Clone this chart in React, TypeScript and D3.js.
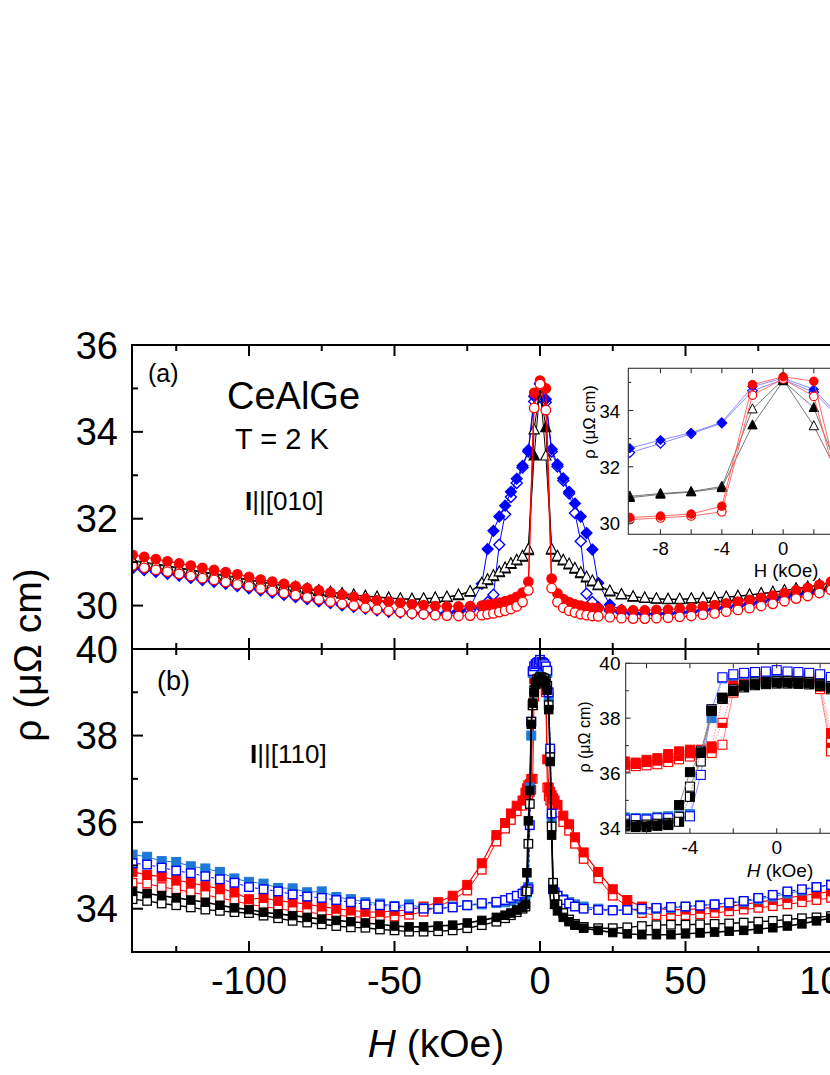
import React from "react";
import * as d3 from "d3";

const W = 830;
const HT = 1075;
const FONT = "'Liberation Sans', Arial, Helvetica, sans-serif";

// ---------- axis ticks ----------
const xMajorTicks = [-100, -50, 0, 50, 100];
const xTickLabels = ["-100", "-50", "0", "50", "100"];
const xMinorTicks = [-125, -75, -25, 25, 75, 125];
const yAMajor = [30, 32, 34, 36];
const yAMinor = [31, 33, 35];
const yBMajor = [34, 36, 38, 40];
const yBMinor = [35, 37, 39];
const iaXTicks = [-8, -6, -4, -2, 0, 2, 4, 6, 8];
const iaXLabels = [-8, -4, 0];
const iaYMajor = [30, 32, 34];
const iaYMinor = [31, 33, 35];
const ibXTicks = [-6, -4, -2, 0, 2, 4, 6];
const ibXLabels = [-4, 0];
const ibYMajor = [34, 36, 38, 40];
const ibYMinor = [35, 37, 39];

// ---------- panel (a): I || [010] ----------
const hA = [
  -140, -136, -132, -128, -124, -120, -116, -112, -108, -104, -100, -96, -92, -88, -84, -80, -76, -72, -68, -64, -60, -56, -52, -48, -44, -40, -36, -32, -28, -24,
  -20, -18, -16, -14, -12, -10, -8, -6, -4, -2, 0, 2, 4, 6, 8, 10, 12, 14, 16, 18, 20,
  24, 28, 32, 36, 40, 44, 48, 52, 56, 60, 64, 68, 72, 76, 80, 84, 88, 92, 96, 100, 104, 108, 112, 116, 120, 124, 128, 132, 136, 140,
];
const aRedFilled = [
  31.17, 31.12, 31.07, 31.02, 30.97, 30.92, 30.87, 30.82, 30.77, 30.72, 30.66, 30.6, 30.55, 30.5, 30.45, 30.4, 30.35, 30.3, 30.25, 30.2, 30.16, 30.12, 30.09, 30.06, 30.03, 30.01, 29.99, 29.98, 29.98, 29.99,
  30.0, 30.02, 30.04, 30.07, 30.1, 30.14, 30.2, 30.3, 30.55, 34.9, 35.18, 35.0, 30.62, 30.28, 30.15, 30.08, 30.03, 30.0, 29.97, 29.95, 29.94,
  29.92, 29.9, 29.89, 29.89, 29.9, 29.91, 29.93, 29.95, 29.98, 30.01, 30.05, 30.09, 30.13, 30.18, 30.23, 30.29, 30.35, 30.41, 30.48, 30.55, 30.62, 30.69, 30.76, 30.83, 30.9, 30.97, 31.04, 31.11, 31.18, 31.25,
];
const aRedOpen = [
  30.92, 30.87, 30.82, 30.78, 30.73, 30.68, 30.63, 30.59, 30.54, 30.49, 30.44, 30.39, 30.34, 30.29, 30.24, 30.19, 30.14, 30.09, 30.04, 30.0, 29.95, 29.91, 29.88, 29.85, 29.82, 29.8, 29.78, 29.77, 29.76, 29.77,
  29.78, 29.8, 29.82, 29.85, 29.88, 29.92, 29.98, 30.08, 30.35, 34.55, 35.1, 34.5, 30.4, 30.08, 29.95, 29.88, 29.84, 29.8, 29.78, 29.76, 29.75,
  29.73, 29.71, 29.7, 29.7, 29.71, 29.72, 29.74, 29.76, 29.79, 29.82, 29.86, 29.9, 29.94, 29.99, 30.04, 30.1, 30.16, 30.22, 30.29, 30.36, 30.43, 30.5, 30.57, 30.64, 30.71, 30.78, 30.85, 30.92, 30.99, 31.06,
];
const aBlackOpen = [
  31.05, 31.0, 30.96, 30.92, 30.87, 30.83, 30.78, 30.74, 30.7, 30.65, 30.6, 30.56, 30.51, 30.47, 30.43, 30.39, 30.35, 30.31, 30.28, 30.25, 30.22, 30.2, 30.18, 30.16, 30.15, 30.16, 30.18, 30.2, 30.25, 30.33,
  30.52, 30.6, 30.69, 30.78, 30.87, 30.97, 31.05, 31.14, 31.3, 34.05, 35.05, 33.45, 31.3, 31.14, 31.05, 30.96, 30.86, 30.76, 30.66, 30.57, 30.48,
  30.34, 30.26, 30.21, 30.18, 30.16, 30.15, 30.15, 30.16, 30.17, 30.18, 30.2, 30.22, 30.25, 30.28, 30.31, 30.35, 30.39, 30.43, 30.48, 30.53, 30.58, 30.63, 30.68, 30.74, 30.8, 30.86, 30.92, 30.98, 31.04, 31.1,
];
const aBlackFilled = [
  31.03, 30.98, 30.94, 30.9, 30.85, 30.81, 30.76, 30.72, 30.68, 30.63, 30.58, 30.54, 30.49, 30.45, 30.41, 30.37, 30.33, 30.3, 30.27, 30.24, 30.21, 30.19, 30.17, 30.15, 30.14, 30.15, 30.17, 30.19, 30.23, 30.31,
  30.5, 30.58, 30.67, 30.76, 30.85, 30.95, 31.03, 31.12, 31.27, 33.45, 35.0, 34.1, 31.28, 31.12, 31.03, 30.94, 30.84, 30.74, 30.64, 30.55, 30.46,
  30.32, 30.25, 30.2, 30.17, 30.15, 30.14, 30.14, 30.15, 30.16, 30.17, 30.19, 30.21, 30.24, 30.27, 30.3, 30.34, 30.38, 30.42, 30.47, 30.52, 30.57, 30.62, 30.67, 30.73, 30.79, 30.85, 30.91, 30.97, 31.03, 31.09,
];
const aBlueFilled = [
  30.88, 30.84, 30.8, 30.75, 30.71, 30.66, 30.61, 30.57, 30.52, 30.47, 30.42, 30.37, 30.32, 30.27, 30.22, 30.17, 30.12, 30.08, 30.03, 29.99, 29.95, 29.91, 29.88, 29.86, 29.84, 29.83, 29.82, 29.84, 29.88, 29.97,
  30.5, 31.3, 31.72, 32.05, 32.3, 32.62, 32.92, 33.22, 33.58, 34.82, 35.12, 34.75, 33.6, 33.25, 32.93, 32.62, 32.35, 32.05, 31.67, 31.29, 30.52,
  30.02, 29.9, 29.84, 29.82, 29.82, 29.83, 29.85, 29.87, 29.9, 29.93, 29.97, 30.01, 30.05, 30.1, 30.15, 30.2, 30.25, 30.3, 30.36, 30.42, 30.48, 30.55, 30.61, 30.68, 30.74, 30.81, 30.87, 30.94, 31.0, 31.07,
];
const aBlueOpen = [
  30.86, 30.82, 30.78, 30.73, 30.69, 30.64, 30.59, 30.55, 30.5, 30.45, 30.4, 30.35, 30.3, 30.25, 30.2, 30.15, 30.1, 30.06, 30.01, 29.97, 29.93, 29.89, 29.86, 29.84, 29.82, 29.81, 29.8, 29.82, 29.85, 29.9,
  29.95, 30.08, 30.25, 31.4, 32.1, 32.5, 32.82, 33.18, 33.55, 34.7, 35.1, 34.68, 33.55, 33.2, 32.88, 32.58, 32.13, 31.48, 30.27, 30.08, 29.96,
  29.88, 29.84, 29.81, 29.8, 29.8, 29.81, 29.83, 29.85, 29.88, 29.91, 29.95, 29.99, 30.03, 30.08, 30.13, 30.18, 30.23, 30.28, 30.34, 30.4, 30.46, 30.53, 30.59, 30.66, 30.72, 30.79, 30.85, 30.92, 30.98, 31.05,
];

// inset (a)
const hIA = [-10, -8, -6, -4, -2, 0, 2, 4, 6, 8, 10];
const iaBlueFilled = [32.66, 32.95, 33.21, 33.58, 34.85, 35.15, 34.75, 33.6, 33.25, 32.95, 32.68];
const iaBlueOpen = [32.5, 32.83, 33.17, 33.55, 34.7, 35.1, 34.65, 33.55, 33.2, 32.85, 32.55];
const iaBlackOpen = [30.95, 31.05, 31.12, 31.3, 34.05, 35.1, 33.45, 31.3, 31.14, 31.05, 30.95];
const iaBlackFilled = [30.9, 31.02, 31.1, 31.25, 33.48, 35.05, 34.1, 31.3, 31.12, 31.03, 30.93];
const iaRedFilled = [30.2, 30.25, 30.32, 30.6, 34.92, 35.2, 35.04, 30.55, 30.3, 30.22, 30.18];
const iaRedOpen = [30.12, 30.18, 30.25, 30.4, 34.55, 35.12, 34.5, 30.42, 30.22, 30.15, 30.1];

// ---------- panel (b): I || [110] ----------
const hB = [
  -140, -135, -130, -125, -120, -115, -110, -105, -100, -95, -90, -85, -80, -75, -70, -65, -60, -55, -50, -45, -40, -35, -30, -25, -20, -15,
  -12, -10, -8, -6, -5, -4.5, -4, -3.5, -3, -2.5, -2, -1.5, -1, -0.5, 0, 0.5, 1, 1.5, 2, 2.5, 3, 3.5, 4, 4.5, 5, 6, 8, 10, 12,
  15, 20, 25, 30, 35, 40, 45, 50, 55, 60, 65, 70, 75, 80, 85, 90, 95, 100, 105, 110, 115, 120, 125, 130, 135, 140,
];
const bBlueFilled = [
  35.25, 35.2, 35.1, 35.08, 34.98, 34.93, 34.85, 34.7, 34.62, 34.58, 34.48, 34.47, 34.38, 34.4, 34.27, 34.22, 34.15, 34.12, 34.06, 34.1, 34.02, 34.0, 34.05, 34.08, 34.1, 34.13,
  34.15, 34.18, 34.22, 34.28, 34.32, 34.38, 34.5, 36.8, 38.0, 39.45, 39.55, 39.6, 39.62, 39.62, 39.65, 39.62, 39.6, 39.58, 39.55, 39.45, 38.9, 37.6, 36.1, 34.5, 34.35, 34.3, 34.22, 34.15, 34.1,
  34.05, 34.0, 33.97, 33.97, 33.98, 34.0, 34.02, 34.05, 34.08, 34.1, 34.13, 34.16, 34.22, 34.28, 34.35, 34.42, 34.5, 34.56, 34.62, 34.68, 34.75, 34.82, 34.88, 34.95, 35.0, 35.05,
];
const bBlueOpen = [
  35.05, 35.02, 34.95, 34.88, 34.82, 34.75, 34.68, 34.6, 34.5, 34.45, 34.4, 34.33, 34.28, 34.25, 34.2, 34.15, 34.1, 34.08, 34.05, 34.02, 34.0, 34.0, 34.03, 34.08, 34.13, 34.16,
  34.2, 34.25, 34.3, 34.35, 34.4, 34.42, 34.45, 35.93, 38.32, 39.49, 39.6, 39.65, 39.68, 39.7, 39.75, 39.7, 39.68, 39.65, 39.6, 39.5, 39.0, 37.7, 36.2, 34.45, 34.38, 34.3, 34.2, 34.12, 34.05,
  34.0, 33.97, 33.96, 33.97, 34.0, 34.02, 34.04, 34.05, 34.07, 34.1, 34.14, 34.18, 34.25, 34.32, 34.4, 34.45, 34.5, 34.55, 34.6, 34.65, 34.7, 34.76, 34.82, 34.88, 34.94, 35.0,
];
const bRedFilled = [
  34.85, 34.78, 34.74, 34.66, 34.6, 34.52, 34.47, 34.38, 34.22, 34.25, 34.18, 34.15, 34.1, 34.05, 34.0, 33.96, 33.93, 33.92, 33.95, 33.97, 34.05, 34.15, 34.3, 34.55, 35.05, 35.7,
  35.98, 36.2, 36.38, 36.5, 36.68, 36.78, 36.85, 36.88, 37.0, 38.7, 39.3, 39.5, 39.55, 39.58, 39.58, 39.55, 39.52, 39.45, 39.05, 37.45, 36.8, 36.7, 36.62, 36.55, 36.5, 36.4, 36.15, 35.95, 35.65,
  35.3, 34.85, 34.45, 34.2, 34.05, 34.0, 33.98, 33.98, 34.0, 34.03, 34.06, 34.1, 34.15, 34.2, 34.25, 34.3, 34.35, 34.4, 34.45, 34.5, 34.55, 34.6, 34.65, 34.7, 34.75, 34.8,
];
const bRedOpen = [
  34.6, 34.58, 34.5, 34.45, 34.38, 34.32, 34.25, 34.18, 34.1, 34.05, 34.0, 33.95, 33.92, 33.88, 33.85, 33.82, 33.8, 33.8, 33.82, 33.86, 33.93, 34.05, 34.2, 34.42, 34.9, 35.55,
  35.85, 36.05, 36.25, 36.38, 36.5, 36.6, 36.65, 36.7, 36.75, 37.0, 38.9, 39.4, 39.45, 39.48, 39.5, 39.48, 39.45, 39.42, 39.0, 36.8, 36.6, 36.5, 36.42, 36.38, 36.32, 36.22, 36.0, 35.8, 35.5,
  35.15, 34.7, 34.3, 34.05, 33.9, 33.85, 33.84, 33.85, 33.87, 33.9, 33.94, 33.98, 34.02, 34.06, 34.1, 34.15, 34.2, 34.25, 34.3, 34.35, 34.4, 34.45, 34.5, 34.55, 34.6, 34.65,
];
const bBlackFilled = [
  34.4, 34.35, 34.3, 34.25, 34.2, 34.15, 34.08, 34.02, 33.98, 33.92, 33.88, 33.84, 33.8, 33.76, 33.73, 33.7, 33.67, 33.64, 33.6, 33.58, 33.58, 33.6, 33.62, 33.67, 33.73, 33.8,
  33.85, 33.9, 33.97, 34.03, 34.1, 34.83, 36.03, 36.73, 38.26, 38.75, 38.99, 39.18, 39.24, 39.28, 39.3, 39.3, 39.28, 39.25, 39.2, 39.05, 38.6, 37.4, 35.7, 34.45, 34.1, 33.95, 33.8, 33.7, 33.62,
  33.55, 33.5, 33.45, 33.42, 33.4, 33.4, 33.4, 33.42, 33.44, 33.46, 33.48, 33.5, 33.53, 33.56, 33.6, 33.65, 33.72, 33.78, 33.83, 33.88, 33.93, 33.98, 34.03, 34.08, 34.13, 34.18,
];
const bBlackOpen = [
  34.22, 34.18, 34.12, 34.08, 34.03, 33.98, 33.95, 33.92, 33.9, 33.84, 33.78, 33.72, 33.68, 33.64, 33.6, 33.57, 33.56, 33.52, 33.5, 33.47, 33.47, 33.48, 33.5, 33.55, 33.62, 33.7,
  33.78, 33.85, 33.92, 34.0, 34.05, 34.4, 35.5, 36.42, 38.32, 38.7, 39.05, 39.2, 39.3, 39.32, 39.35, 39.35, 39.33, 39.32, 39.25, 39.15, 38.7, 37.5, 35.9, 34.6, 34.3, 34.1, 33.9, 33.75, 33.65,
  33.58, 33.55, 33.55, 33.57, 33.6, 33.62, 33.63, 33.63, 33.64, 33.65, 33.66, 33.68, 33.7, 33.72, 33.75, 33.78, 33.8, 33.83, 33.86, 33.9, 33.93, 33.96, 34.0, 34.03, 34.06, 34.1,
];

// inset (b)
const hIB = [-7, -6.5, -6, -5.5, -5, -4.5, -4, -3.5, -3, -2.5, -2, -1.5, -1, -0.5, 0, 0.5, 1, 1.5, 2, 2.5, 3, 3.5, 4];
const ibBlueFilled = [34.38, 34.36, 34.35, 34.4, 34.42, 34.45, 34.5, 36.8, 38.0, 39.45, 39.55, 39.6, 39.62, 39.62, 39.65, 39.62, 39.6, 39.58, 39.55, 39.45, 38.9, 37.6, 36.1];
const ibBlueOpen = [34.3, 34.32, 34.3, 34.35, 34.35, 34.38, 34.42, 35.93, 38.32, 39.49, 39.6, 39.65, 39.68, 39.7, 39.75, 39.7, 39.68, 39.65, 39.6, 39.5, 39.0, 37.7, 36.2];
const ibRedFilled = [36.42, 36.38, 36.48, 36.54, 36.69, 36.79, 36.85, 36.85, 36.97, 38.7, 39.3, 39.5, 39.55, 39.58, 39.58, 39.55, 39.52, 39.45, 39.3, 37.46, 36.8, 36.7, 36.62];
const ibRedOpen = [36.2, 36.25, 36.28, 36.32, 36.4, 36.5, 36.6, 36.65, 36.73, 37.03, 38.93, 39.4, 39.45, 39.48, 39.5, 39.48, 39.45, 39.42, 39.06, 36.79, 36.6, 36.5, 36.42];
const ibRedHalf = [36.3, 36.33, 36.4, 36.45, 36.55, 36.62, 36.72, 36.78, 36.9, 37.83, 39.1, 39.45, 39.5, 39.52, 39.54, 39.52, 39.5, 39.46, 39.15, 37.1, 36.7, 36.6, 36.5];
const ibBlackFilled = [34.05, 34.03, 34.03, 34.07, 34.1, 34.83, 36.03, 36.73, 38.26, 38.75, 38.99, 39.18, 39.24, 39.28, 39.3, 39.3, 39.28, 39.27, 39.2, 39.1, 38.6, 37.4, 35.7];
const ibBlackOpen = [34.15, 34.1, 34.12, 34.15, 34.18, 34.4, 35.5, 36.42, 38.32, 38.7, 39.05, 39.2, 39.3, 39.32, 39.35, 39.35, 39.33, 39.32, 39.25, 39.15, 38.7, 37.5, 35.9];
const ibBlackHalf = [34.1, 34.08, 34.08, 34.12, 34.15, 34.22, 35.13, 36.78, 38.27, 38.72, 39.0, 39.12, 39.2, 39.24, 39.26, 39.26, 39.25, 39.23, 39.18, 39.05, 38.5, 37.3, 35.6];

// ---------- colours ----------
const RED = "#ff0000";
const BLUE = "#0000ff";
const LBLUE = "#1e78d6";
const BLACK = "#000000";

// ---------- scales ----------
const xMain = d3.scaleLinear().domain([-140.2, 140.2]).range([132, 948]);
const yA = d3.scaleLinear().domain([29, 36]).range([649, 345]);
const yB = d3.scaleLinear().domain([33, 40]).range([952, 649]);
const xIA = d3.scaleLinear().domain([-10.1, 10.1]).range([628.3, 938]);
const yIA = d3.scaleLinear().domain([29.6, 35.5]).range([534.3, 368.3]);
const xIB = d3.scaleLinear().domain([-6.96, 6.96]).range([625.7, 927.7]);
const yIB = d3.scaleLinear().domain([33.8, 40]).range([833.3, 663.3]);

type Shape = "circle" | "triangle" | "diamond" | "square";
type Fill = "filled" | "open" | "halfR" | "halfB";

function Marker(p: { shape: Shape; fill: Fill; color: string; cx: number; cy: number; s: number; sw: number }) {
  const { shape, fill, color, cx, cy, s, sw } = p;
  const f = fill === "filled" ? color : "#ffffff";
  if (shape === "circle") {
    return <circle cx={cx} cy={cy} r={s / 2} fill={f} stroke={color} strokeWidth={sw} />;
  }
  if (shape === "triangle") {
    const d = `M${cx},${cy - 0.58 * s}L${cx + 0.52 * s},${cy + 0.42 * s}L${cx - 0.52 * s},${cy + 0.42 * s}Z`;
    return <path d={d} fill={f} stroke={color} strokeWidth={sw} strokeLinejoin="miter" />;
  }
  if (shape === "diamond") {
    const h = s / 2;
    const d = `M${cx},${cy - h}L${cx + h},${cy}L${cx},${cy + h}L${cx - h},${cy}Z`;
    return <path d={d} fill={f} stroke={color} strokeWidth={sw} />;
  }
  const h = s / 2;
  return (
    <g>
      <rect x={cx - h} y={cy - h} width={s} height={s} fill={f} stroke={color} strokeWidth={sw} />
      {fill === "halfR" && <rect x={cx} y={cy - h} width={h} height={s} fill={color} />}
      {fill === "halfB" && <rect x={cx - h} y={cy} width={s} height={h} fill={color} />}
    </g>
  );
}

function Series(p: {
  xs: number[];
  ys: number[];
  sx: d3.ScaleLinear<number, number>;
  sy: d3.ScaleLinear<number, number>;
  color: string;
  lineColor?: string;
  shape: Shape;
  fill: Fill;
  size: number;
  sw: number;
  lw: number;
  dash?: string;
}) {
  const { xs, ys, sx, sy, color, lineColor, shape, fill, size, sw, lw, dash } = p;
  const line = d3
    .line<number>()
    .x((_, i) => sx(xs[i]))
    .y((v) => sy(v));
  return (
    <g>
      <path d={line(ys) || ""} fill="none" stroke={lineColor || color} strokeWidth={lw} strokeDasharray={dash} />
      {ys.map((v, i) => (
        <Marker key={i} shape={shape} fill={fill} color={color} cx={sx(xs[i])} cy={sy(v)} s={size} sw={sw} />
      ))}
    </g>
  );
}

export default function App() {
  const L = 132;
  const R = 948;
  const TOP = 345;
  const MID = 649;
  const BOT = 952;
  const AX = 2;

  // inset frames
  const ia = { x0: 628.3, x1: 938, y0: 368.3, y1: 534.3 };
  const ib = { x0: 625.7, x1: 927.7, y0: 663.3, y1: 833.3 };

  return (
    <svg
      width={W}
      height={HT}
      viewBox={`0 0 ${W} ${HT}`}
      style={{ position: "absolute", left: 0, top: 0, display: "block", background: "#fff" }}
      fontFamily={FONT}
    >
      <defs>
        <clipPath id="clipA">
          <rect x={L} y={TOP} width={R - L} height={MID - TOP} />
        </clipPath>
        <clipPath id="clipB">
          <rect x={L} y={MID} width={R - L} height={BOT - MID} />
        </clipPath>
        <clipPath id="clipIA">
          <rect x={ia.x0} y={ia.y0} width={ia.x1 - ia.x0} height={ia.y1 - ia.y0} />
        </clipPath>
        <clipPath id="clipIB">
          <rect x={ib.x0} y={ib.y0} width={ib.x1 - ib.x0} height={ib.y1 - ib.y0} />
        </clipPath>
      </defs>
      <rect x={0} y={0} width={W} height={HT} fill="#fff" />

      {/* ---------- panel (a) data ---------- */}
      <g clipPath="url(#clipA)">
        <Series xs={hA} ys={aBlueOpen} sx={xMain} sy={yA} color={BLUE} shape="diamond" fill="open" size={11} sw={1.4} lw={1} />
        <Series xs={hA} ys={aBlueFilled} sx={xMain} sy={yA} color={BLUE} shape="diamond" fill="filled" size={11} sw={1.2} lw={1} />
        <Series xs={hA} ys={aBlackFilled} sx={xMain} sy={yA} color={BLACK} shape="triangle" fill="filled" size={10} sw={1.1} lw={1} />
        <Series xs={hA} ys={aBlackOpen} sx={xMain} sy={yA} color={BLACK} shape="triangle" fill="open" size={10} sw={1.1} lw={1} />
        <Series xs={hA} ys={aRedFilled} sx={xMain} sy={yA} color={RED} shape="circle" fill="filled" size={9.5} sw={1.2} lw={1.2} />
        <Series xs={hA} ys={aRedOpen} sx={xMain} sy={yA} color={RED} shape="circle" fill="open" size={9.5} sw={1.3} lw={1} />
      </g>

      {/* ---------- panel (b) data ---------- */}
      <g clipPath="url(#clipB)">
        <Series xs={hB} ys={bRedOpen} sx={xMain} sy={yB} color={RED} shape="square" fill="open" size={8.5} sw={1.3} lw={1} />
        <Series xs={hB} ys={bRedFilled} sx={xMain} sy={yB} color={RED} shape="square" fill="filled" size={9} sw={1} lw={1.2} />
        <Series xs={hB} ys={bBlueFilled} sx={xMain} sy={yB} color={LBLUE} shape="square" fill="filled" size={9} sw={1} lw={1} />
        <Series xs={hB} ys={bBlueOpen} sx={xMain} sy={yB} color={BLUE} shape="square" fill="open" size={8.5} sw={1.4} lw={1} dash="3,2" />
        <Series xs={hB} ys={bBlackOpen} sx={xMain} sy={yB} color={BLACK} shape="square" fill="open" size={8.5} sw={1.3} lw={1.4} />
        <Series xs={hB} ys={bBlackFilled} sx={xMain} sy={yB} color={BLACK} shape="square" fill="filled" size={8.5} sw={1} lw={1.6} />
      </g>

      {/* ---------- main axes ---------- */}
      <g stroke="#000" strokeWidth={AX} fill="none">
        <line x1={L} y1={TOP} x2={L} y2={BOT} />
        <line x1={L - 1} y1={TOP} x2={R} y2={TOP} />
        <line x1={L - 1} y1={MID} x2={R} y2={MID} />
        <line x1={L - 1} y1={BOT} x2={R} y2={BOT} />
        {xMajorTicks.map((t) => (
          <g key={"xM" + t}>
            <line x1={xMain(t)} y1={TOP} x2={xMain(t)} y2={TOP + 11} />
            <line x1={xMain(t)} y1={MID - 11} x2={xMain(t)} y2={MID + 11} />
            <line x1={xMain(t)} y1={BOT} x2={xMain(t)} y2={BOT - 11} />
          </g>
        ))}
        {xMinorTicks.map((t) => (
          <g key={"xm" + t}>
            <line x1={xMain(t)} y1={TOP} x2={xMain(t)} y2={TOP + 6} />
            <line x1={xMain(t)} y1={MID - 6} x2={xMain(t)} y2={MID + 6} />
            <line x1={xMain(t)} y1={BOT} x2={xMain(t)} y2={BOT - 6} />
          </g>
        ))}
        {yAMajor.map((t) => (
          <line key={"yaM" + t} x1={L} y1={yA(t)} x2={L + 11} y2={yA(t)} />
        ))}
        {yAMinor.map((t) => (
          <line key={"yam" + t} x1={L} y1={yA(t)} x2={L + 6} y2={yA(t)} />
        ))}
        {yBMajor.map((t) => (
          <line key={"ybM" + t} x1={L} y1={yB(t)} x2={L + 11} y2={yB(t)} />
        ))}
        {yBMinor.map((t) => (
          <line key={"ybm" + t} x1={L} y1={yB(t)} x2={L + 6} y2={yB(t)} />
        ))}
      </g>

      {/* tick labels */}
      <g fontSize={38} fill="#000">
        {yAMajor.map((t) => (
          <text key={"yal" + t} x={118} y={yA(t) + 13.5} textAnchor="end">
            {t}
          </text>
        ))}
        {yBMajor.map((t) => (
          <text key={"ybl" + t} x={118} y={yB(t) + 13.5} textAnchor="end">
            {t}
          </text>
        ))}
        {xMajorTicks.map((t, i) => (
          <text key={"xl" + t} x={xMain(t)} y={994} textAnchor="middle">
            {xTickLabels[i]}
          </text>
        ))}
      </g>

      {/* axis titles */}
      <text transform="translate(41,655) rotate(-90)" textAnchor="middle" fontSize={39}>
        ρ (μΩ cm)
      </text>
      <text x={436} y={1057} textAnchor="middle" fontSize={39}>
        <tspan fontStyle="italic">H</tspan> (kOe)
      </text>

      {/* annotations */}
      <text x={148} y={382} fontSize={25}>(a)</text>
      <text x={227} y={409} fontSize={38}>CeAlGe</text>
      <text x={235} y={449} fontSize={29}>T = 2 K</text>
      <text x={245} y={510} fontSize={26}>
        <tspan fontWeight="bold">I</tspan>||[010]
      </text>
      <text x={157} y={690} fontSize={27}>(b)</text>
      <text x={250} y={763} fontSize={26}>
        <tspan fontWeight="bold">I</tspan>||[110]
      </text>

      {/* ---------- inset (a) ---------- */}
      <rect x={ia.x0} y={ia.y0} width={ia.x1 - ia.x0} height={ia.y1 - ia.y0} fill="#fff" />
      <g clipPath="url(#clipIA)">
        <Series xs={hIA} ys={iaBlueOpen} sx={xIA} sy={yIA} color={BLUE} lineColor="#7f7fff" shape="diamond" fill="open" size={9.5} sw={1.2} lw={0.9} />
        <Series xs={hIA} ys={iaBlueFilled} sx={xIA} sy={yIA} color={BLUE} lineColor="#7f7fff" shape="diamond" fill="filled" size={9.5} sw={1} lw={0.9} />
        <Series xs={hIA} ys={iaBlackOpen} sx={xIA} sy={yIA} color={BLACK} lineColor="#555" shape="triangle" fill="open" size={9} sw={1} lw={0.8} />
        <Series xs={hIA} ys={iaBlackFilled} sx={xIA} sy={yIA} color={BLACK} lineColor="#555" shape="triangle" fill="filled" size={9} sw={1} lw={0.8} />
        <Series xs={hIA} ys={iaRedOpen} sx={xIA} sy={yIA} color={RED} lineColor="#ff5a5a" shape="circle" fill="open" size={8.5} sw={1.2} lw={0.9} />
        <Series xs={hIA} ys={iaRedFilled} sx={xIA} sy={yIA} color={RED} lineColor="#ff5a5a" shape="circle" fill="filled" size={8.5} sw={1} lw={0.9} />
      </g>
      <g stroke="#333" strokeWidth={1.1} fill="none">
        <rect x={ia.x0} y={ia.y0} width={ia.x1 - ia.x0} height={ia.y1 - ia.y0} />
        {iaXTicks.map((t) => (
          <g key={"iax" + t}>
            <line x1={xIA(t)} y1={ia.y0} x2={xIA(t)} y2={ia.y0 + 5} />
            <line x1={xIA(t)} y1={ia.y1} x2={xIA(t)} y2={ia.y1 - 5} />
          </g>
        ))}
        {iaYMajor.map((t) => (
          <line key={"iayM" + t} x1={ia.x0} y1={yIA(t)} x2={ia.x0 + 5} y2={yIA(t)} />
        ))}
        {iaYMinor.map((t) => (
          <line key={"iaym" + t} x1={ia.x0} y1={yIA(t)} x2={ia.x0 + 3} y2={yIA(t)} />
        ))}
      </g>
      <g fontSize={18.5} fill="#000">
        {iaYMajor.map((t) => (
          <text key={"iayl" + t} x={620} y={yIA(t) + 7} textAnchor="end">
            {t}
          </text>
        ))}
        {iaXLabels.map((t) => (
          <text key={"iaxl" + t} x={xIA(t)} y={555} textAnchor="middle">
            {t}
          </text>
        ))}
        <text x={786} y={577} textAnchor="middle">H (kOe)</text>
      </g>
      <text transform="translate(595,422) rotate(-90)" textAnchor="middle" fontSize={16.5}>
        ρ (μΩ cm)
      </text>

      {/* ---------- inset (b) ---------- */}
      <rect x={ib.x0} y={ib.y0} width={ib.x1 - ib.x0} height={ib.y1 - ib.y0} fill="#fff" />
      <g clipPath="url(#clipIB)">
        <Series xs={hIB} ys={ibRedOpen} sx={xIB} sy={yIB} color={RED} lineColor="#ff6a6a" shape="square" fill="open" size={9} sw={1.1} lw={0.8} />
        <Series xs={hIB} ys={ibRedHalf} sx={xIB} sy={yIB} color={RED} lineColor="#ff6a6a" shape="square" fill="halfB" size={9} sw={1.1} lw={0.8} dash="1.5,1.5" />
        <Series xs={hIB} ys={ibRedFilled} sx={xIB} sy={yIB} color={RED} lineColor="#ff6a6a" shape="square" fill="filled" size={9} sw={1} lw={0.8} dash="1.5,1.5" />
        <Series xs={hIB} ys={ibBlueFilled} sx={xIB} sy={yIB} color={LBLUE} lineColor="#6f9fe8" shape="square" fill="filled" size={9} sw={1} lw={0.8} dash="1.5,1.5" />
        <Series xs={hIB} ys={ibBlueOpen} sx={xIB} sy={yIB} color={BLUE} lineColor="#6a6aff" shape="square" fill="open" size={9} sw={1.1} lw={0.8} />
        <Series xs={hIB} ys={ibBlackOpen} sx={xIB} sy={yIB} color={BLACK} lineColor="#777" shape="square" fill="open" size={9} sw={1.1} lw={0.8} />
        <Series xs={hIB} ys={ibBlackHalf} sx={xIB} sy={yIB} color={BLACK} lineColor="#777" shape="square" fill="halfR" size={9} sw={1.1} lw={0.8} dash="1.5,1.5" />
        <Series xs={hIB} ys={ibBlackFilled} sx={xIB} sy={yIB} color={BLACK} lineColor="#777" shape="square" fill="filled" size={9} sw={1} lw={0.8} />
      </g>
      <g stroke="#333" strokeWidth={1.1} fill="none">
        <rect x={ib.x0} y={ib.y0} width={ib.x1 - ib.x0} height={ib.y1 - ib.y0} />
        {ibXTicks.map((t) => (
          <g key={"ibx" + t}>
            <line x1={xIB(t)} y1={ib.y0} x2={xIB(t)} y2={ib.y0 + 5} />
            <line x1={xIB(t)} y1={ib.y1} x2={xIB(t)} y2={ib.y1 - 5} />
          </g>
        ))}
        {ibYMajor.map((t) => (
          <line key={"ibyM" + t} x1={ib.x0} y1={yIB(t)} x2={ib.x0 + 5} y2={yIB(t)} />
        ))}
        {ibYMinor.map((t) => (
          <line key={"ibym" + t} x1={ib.x0} y1={yIB(t)} x2={ib.x0 + 3} y2={yIB(t)} />
        ))}
      </g>
      <g fontSize={19} fill="#000">
        {ibYMajor.map((t) => (
          <text key={"ibyl" + t} x={620.5} y={yIB(t) + 7} textAnchor="end">
            {t}
          </text>
        ))}
        {ibXLabels.map((t) => (
          <text key={"ibxl" + t} x={xIB(t)} y={854} textAnchor="middle">
            {t}
          </text>
        ))}
        <text x={780} y={877} textAnchor="middle">
          <tspan fontStyle="italic">H</tspan> (kOe)
        </text>
      </g>
      <text transform="translate(590,737) rotate(-90)" textAnchor="middle" fontSize={16}>
        ρ (μΩ cm)
      </text>
    </svg>
  );
}
